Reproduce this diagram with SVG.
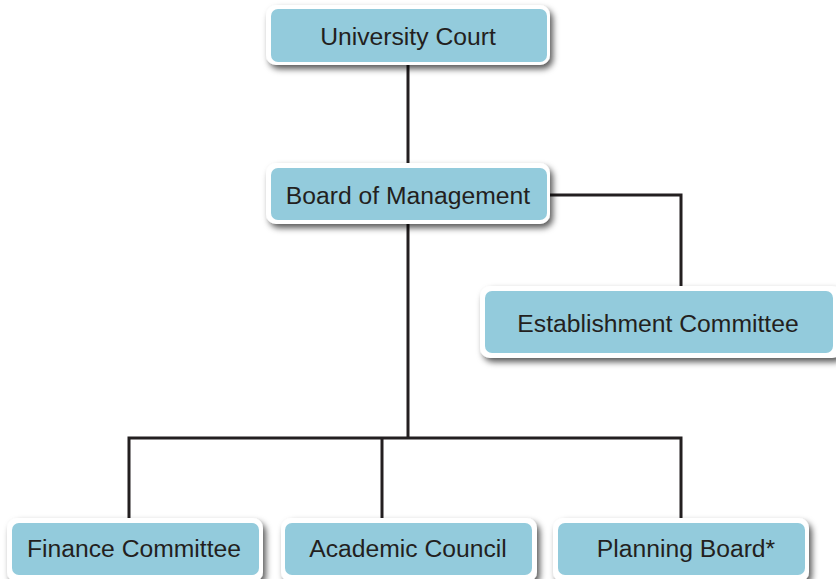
<svg xmlns="http://www.w3.org/2000/svg" width="836" height="579" viewBox="0 0 836 579">
<defs>
<filter id="sh" x="-10%" y="-20%" width="125%" height="160%">
<feDropShadow dx="3" dy="4" stdDeviation="3" flood-color="#000" flood-opacity="0.65"/>
</filter>
<style>
.outer{fill:#fff;filter:url(#sh)}
.inner{fill:#93cbdc}
.lbl{font-family:"Liberation Sans",Arial,sans-serif;font-size:24.7px;fill:#231f20;text-anchor:middle}
.con{fill:none;stroke:#231f20;stroke-width:3}
</style>
</defs>
<rect width="836" height="579" fill="#fff"/>
<g id="connectors">
<path class="con" d="M408 65V163"/>
<path class="con" d="M408 224V438"/>
<path class="con" d="M550 195H681V286"/>
<path class="con" d="M129 518V438H681V518"/>
<path class="con" d="M382 438V518"/>
</g>
<g id="university-court">
<rect class="outer" x="266" y="5" width="284" height="60" rx="10"/>
<rect class="inner" x="271" y="9" width="276" height="53" rx="7"/>
<text class="lbl" x="408" y="45">University Court</text>
</g>
<g id="board-of-management">
<rect class="outer" x="266" y="163" width="284" height="61" rx="10"/>
<rect class="inner" x="271" y="168" width="276" height="52" rx="7"/>
<text class="lbl" x="408" y="204">Board of Management</text>
</g>
<g id="establishment-committee">
<rect class="outer" x="480" y="286" width="362" height="72" rx="10"/>
<rect class="inner" x="485" y="291" width="348" height="62" rx="7"/>
<text class="lbl" x="658" y="332">Establishment Committee</text>
</g>
<g id="finance-committee">
<rect class="outer" x="7" y="518" width="256" height="64" rx="10"/>
<rect class="inner" x="12" y="523" width="247" height="52" rx="7"/>
<text class="lbl" x="134" y="557">Finance Committee</text>
</g>
<g id="academic-council">
<rect class="outer" x="281" y="518" width="256" height="64" rx="10"/>
<rect class="inner" x="285" y="523" width="247" height="52" rx="7"/>
<text class="lbl" x="408" y="557">Academic Council</text>
</g>
<g id="planning-board">
<rect class="outer" x="553" y="518" width="256" height="64" rx="10"/>
<rect class="inner" x="558" y="523" width="247" height="52" rx="7"/>
<text class="lbl" x="686" y="557">Planning Board*</text>
</g>
</svg>
